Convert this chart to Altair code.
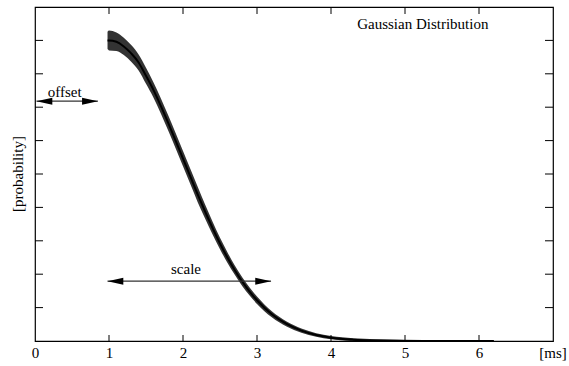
import altair as alt
import pandas as pd

# ---- data ----
x_ms = [0.98, 1.0, 1.1, 1.2, 1.3, 1.4, 1.5, 1.6, 1.7, 1.8, 1.9, 2.0, 2.1, 2.2, 2.3, 2.4,
        2.5, 2.6, 2.7, 2.8, 2.9, 3.0, 3.2, 3.4, 3.6, 3.8, 4.0, 4.3, 4.6, 5.0, 5.5, 6.2]
prob = [9.00, 9.00, 8.96, 8.82, 8.61, 8.34, 7.94, 7.52, 7.04, 6.53, 6.00, 5.46, 4.92, 4.38,
        3.87, 3.38, 2.92, 2.50, 2.12, 1.78, 1.48, 1.22, 0.80, 0.51, 0.31, 0.18, 0.10, 0.04,
        0.014, 0.003, 0.0, 0.0]
spread = [0.26, 0.30, 0.28, 0.26, 0.25, 0.24, 0.24, 0.23, 0.23, 0.23, 0.23, 0.23, 0.23, 0.23,
          0.21, 0.19, 0.17, 0.16, 0.14, 0.13, 0.12, 0.11, 0.09, 0.075, 0.065, 0.055, 0.05,
          0.045, 0.04, 0.035, 0.03, 0.02]
x_ticks = [1, 2, 3, 4, 5, 6]
x_labels = [0, 1, 2, 3, 4, 5, 6]
y_ticks = [1, 2, 3, 4, 5, 6, 7, 8, 9]

W, H = 518, 334
FONT = "Liberation Serif"
FS = 15

df = pd.DataFrame({"x": x_ms, "y": prob, "s": spread})
df["lo"] = df["y"] - df["s"]
df["hi"] = df["y"] + df["s"]

xs = alt.Scale(domain=[0, 7], nice=False, zero=False)
ys = alt.Scale(domain=[0, 10], nice=False, zero=False)

xaxis = alt.Axis(values=x_labels, format="d", labelFont=FONT, labelFontSize=FS,
                 labelColor="black", labelPadding=4, ticks=False, domain=False,
                 grid=False, title=None, labelFlush=False)

band = alt.Chart(df).mark_area(color="black", opacity=0.8, interpolate="monotone", clip=True).encode(
    x=alt.X("x:Q", scale=xs, axis=xaxis),
    y=alt.Y("lo:Q", scale=ys, axis=None),
    y2="hi:Q",
)
line = alt.Chart(df).mark_line(color="black", strokeWidth=2, interpolate="monotone", clip=True).encode(
    x=alt.X("x:Q", scale=xs),
    y=alt.Y("y:Q", scale=ys),
)

xt = pd.DataFrame({"v": x_ticks})
yt = pd.DataFrame({"v": y_ticks})
tick_style = dict(color="black", strokeWidth=1)
bt = alt.Chart(xt).mark_rule(**tick_style).encode(
    x=alt.X("v:Q", scale=xs), y=alt.value(H), y2=alt.value(H - 6))
tt = alt.Chart(xt).mark_rule(**tick_style).encode(
    x=alt.X("v:Q", scale=xs), y=alt.value(0), y2=alt.value(7))
lt = alt.Chart(yt).mark_rule(**tick_style).encode(
    y=alt.Y("v:Q", scale=ys), x=alt.value(0), x2=alt.value(8))
rt = alt.Chart(yt).mark_rule(**tick_style).encode(
    y=alt.Y("v:Q", scale=ys), x=alt.value(W), x2=alt.value(W - 8))

# arrows
arr = pd.DataFrame({"x1": [0.02, 0.98], "x2": [0.85, 3.19], "y": [7.18, 1.79]})
shafts = alt.Chart(arr).mark_rule(color="#333", strokeWidth=1.2).encode(
    x=alt.X("x1:Q", scale=xs), x2="x2:Q", y=alt.Y("y:Q", scale=ys))
left_heads = alt.Chart(arr).mark_point(
    shape="M0,0 L1,-0.22 L1,0.22 Z", size=1000, filled=True, color="black", opacity=1).encode(
    x=alt.X("x1:Q", scale=xs), y=alt.Y("y:Q", scale=ys))
right_heads = alt.Chart(arr).mark_point(
    shape="M0,0 L-1,-0.22 L-1,0.22 Z", size=1000, filled=True, color="black", opacity=1).encode(
    x=alt.X("x2:Q", scale=xs), y=alt.Y("y:Q", scale=ys))

tstyle = dict(font=FONT, fontSize=FS, color="black", baseline="middle")
t_offset = alt.Chart().mark_text(text="offset", **tstyle).encode(
    x=alt.X(datum=0.4, scale=xs), y=alt.Y(datum=7.45, scale=ys))
t_scale = alt.Chart().mark_text(text="scale", **tstyle).encode(
    x=alt.X(datum=2.04, scale=xs), y=alt.Y(datum=2.15, scale=ys))
t_title = alt.Chart().mark_text(text="Gaussian Distribution", **tstyle).encode(
    x=alt.X(datum=5.24, scale=xs), y=alt.Y(datum=9.48, scale=ys))
t_ms = alt.Chart().mark_text(text="[ms]", **tstyle).encode(
    x=alt.X(datum=7.0, scale=xs), y=alt.value(H + 12))
t_prob = alt.Chart().mark_text(text="[probability]", angle=270, **tstyle).encode(
    x=alt.value(-17), y=alt.Y(datum=5, scale=ys))

chart = alt.layer(
    band, line, bt, tt, lt, rt, shafts, left_heads, right_heads,
    t_offset, t_scale, t_title, t_ms, t_prob,
).properties(
    width=W, height=H,
    autosize=alt.AutoSizeParams(type="none"),
    padding={"left": 35, "top": 7, "right": 16, "bottom": 25},
    background="white",
).configure_view(stroke="black", strokeWidth=1.2)

chart.save("out.html", embed_options={"renderer": "svg", "actions": False})
